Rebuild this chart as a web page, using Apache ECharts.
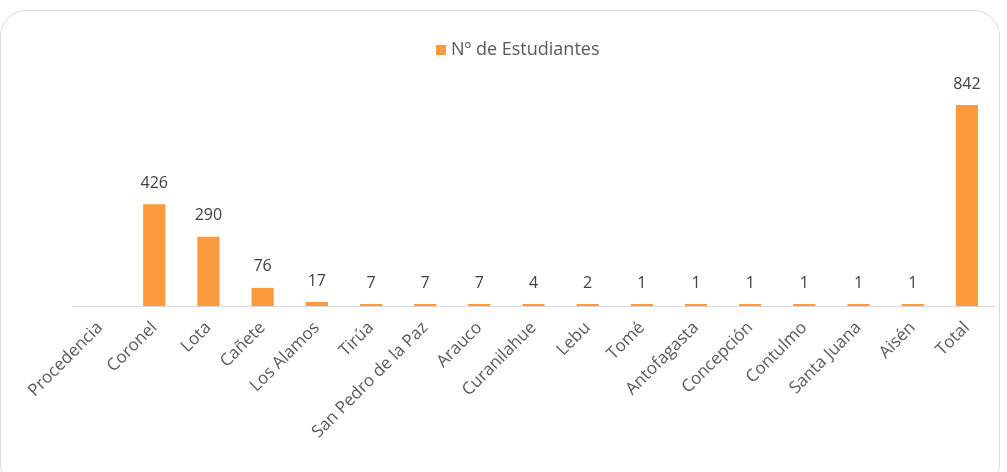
<!DOCTYPE html>
<html>
<head>
<meta charset="utf-8">
<script src="https://cdn.jsdelivr.net/npm/echarts@6/dist/echarts.min.js"></script>
<style>
  html, body { margin: 0; padding: 0; background: #fff; }
  #chart { width: 1007px; height: 472px; }
</style>
</head>
<body>
<div id="chart"></div>
<script>
var categorias = ['Procedencia', 'Coronel', 'Lota', 'Cañete', 'Los Alamos', 'Tirúa',
  'San Pedro de la Paz', 'Arauco', 'Curanilahue', 'Lebu', 'Tomé', 'Antofagasta',
  'Concepción', 'Contulmo', 'Santa Juana', 'Aisén', 'Total'];
var estudiantes = [null, 426, 290, 76, 17, 7, 7, 7, 4, 2, 1, 1, 1, 1, 1, 1, 842];
var serieNombre = 'Nº de Estudiantes';

var myChart = echarts.init(document.getElementById('chart'));
var fuente = '"Open Sans", sans-serif';

var option = {
  animation: false,
  textStyle: { fontFamily: fuente },
  graphic: [{
    type: 'rect',
    shape: { x: 0.5, y: 10.5, width: 999, height: 480, r: 26 },
    style: { fill: 'none', stroke: '#d9d9d9', lineWidth: 1 },
    silent: true
  }],
  legend: {
    data: [serieNombre],
    top: 36,
    left: 431,
    icon: 'rect',
    itemWidth: 10,
    itemHeight: 10,
    itemGap: 6,
    textStyle: { color: '#595959', fontSize: 18, fontFamily: fuente }
  },
  grid: { left: 73, right: 13, top: 105, bottom: 166, containLabel: false },
  xAxis: {
    type: 'category',
    data: categorias,
    axisLine: { lineStyle: { color: '#d9d9d9', width: 1 } },
    axisTick: { show: false },
    axisLabel: {
      interval: 0,
      rotate: 45,
      color: '#595959',
      fontSize: 17,
      margin: 19,
      fontFamily: fuente
    }
  },
  yAxis: {
    type: 'value',
    min: 0,
    max: 842,
    show: false,
    splitLine: { show: false }
  },
  series: [{
    name: serieNombre,
    type: 'bar',
    data: estudiantes,
    barWidth: '41%',
    barMinHeight: 2,
    itemStyle: { color: '#fd9a3e' },
    label: {
      show: true,
      position: 'top',
      distance: 13,
      color: '#404040',
      fontSize: 16,
      fontFamily: fuente
    }
  }]
};

myChart.setOption(option);
</script>
</body>
</html>
